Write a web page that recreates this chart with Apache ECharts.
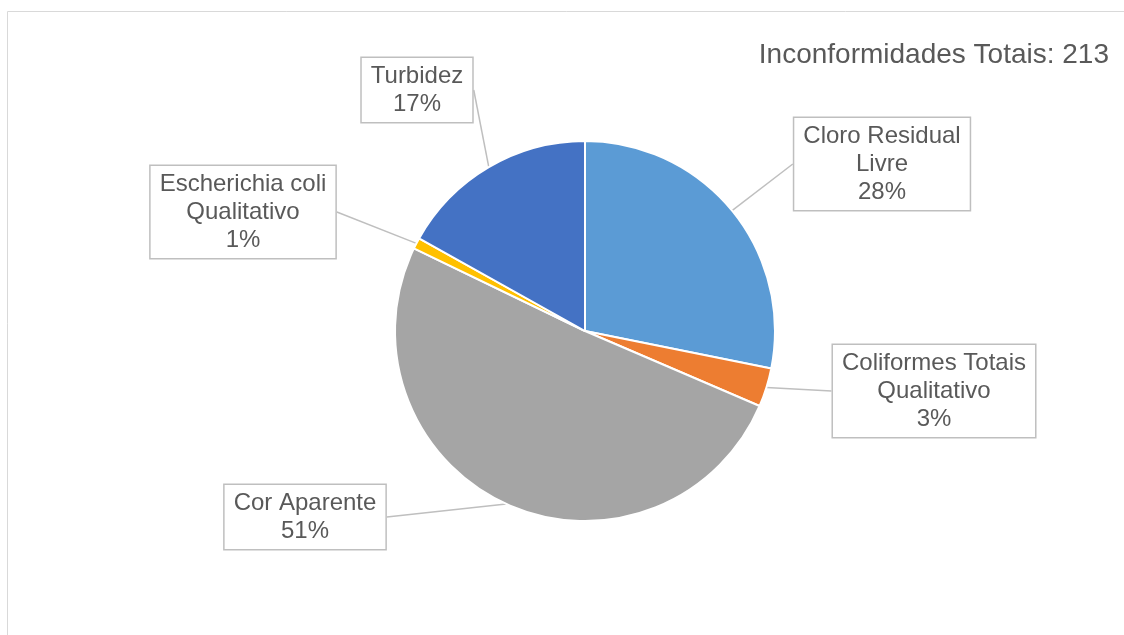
<!DOCTYPE html>
<html>
<head>
<meta charset="utf-8">
<script src="https://cdn.jsdelivr.net/npm/echarts@6/dist/echarts.min.js"></script>
<style>
  html, body { margin: 0; padding: 0; background: #fff; }
  #chart { width: 1124px; height: 635px; }
</style>
</head>
<body>
<div id="chart"></div>
<script>
// categorias e valores (total 213)
var categories = ['Cloro Residual Livre', 'Coliformes Totais Qualitativo', 'Cor Aparente', 'Escherichia coli Qualitativo', 'Turbidez'];
var labelNames = ['Cloro Residual\nLivre', 'Coliformes Totais\nQualitativo', 'Cor Aparente', 'Escherichia coli\nQualitativo', 'Turbidez'];
var values = [60, 7, 108, 2, 36];
var colors = ['#5B9BD5', '#ED7D31', '#A5A5A5', '#FFC000', '#4472C4'];
var total = 213;

// posicao das caixas de rotulo (centro)
var labelPos = [[882, 164], [934, 391], [305, 517], [243, 212], [417, 90]];

var myChart = echarts.init(document.getElementById('chart'));

var seriesData = [];
for (var i = 0; i < categories.length; i++) {
	seriesData.push({
		name: categories[i],
		value: values[i],
		itemStyle: { color: colors[i] }
	});
}

var option = {
	animation: false,
	title: {
		text: 'Inconformidades Totais: ' + total,
		right: 10,
		top: 36,
		textStyle: {
			fontFamily: 'Liberation Sans, Arial, sans-serif',
			fontSize: 28,
			fontWeight: 'normal',
			color: '#595959'
		}
	},
	graphic: [{
		type: 'rect',
		shape: { x: 7.5, y: 11.5, width: 1200, height: 700 },
		style: { fill: 'none', stroke: '#d9d9d9', lineWidth: 1 },
		silent: true,
		z: -10
	}],
	series: [{
		type: 'pie',
		center: [585, 331],
		radius: 190,
		startAngle: 90,
		clockwise: true,
		avoidLabelOverlap: false,
		itemStyle: {
			borderColor: '#fff',
			borderWidth: 2
		},
		label: {
			show: true,
			position: 'outside',
			formatter: function(p) {
				return labelNames[p.dataIndex] + '\n' + Math.round(p.percent) + '%';
			},
			fontFamily: 'Liberation Sans, Arial, sans-serif',
			fontSize: 24,
			lineHeight: 28,
			color: '#595959',
			align: 'center',
			backgroundColor: '#fff',
			borderColor: '#bfbfbf',
			borderWidth: 1.5,
			padding: [4, 9]
		},
		labelLine: {
			show: true,
			length: 0,
			length2: 0,
			lineStyle: { color: '#bfbfbf', width: 1.5 }
		},
		labelLayout: function(params) {
			var p = labelPos[params.dataIndex];
			return { x: p[0], y: p[1], align: 'center', verticalAlign: 'middle' };
		},
		data: seriesData
	}]
};

myChart.setOption(option);
</script>
</body>
</html>
